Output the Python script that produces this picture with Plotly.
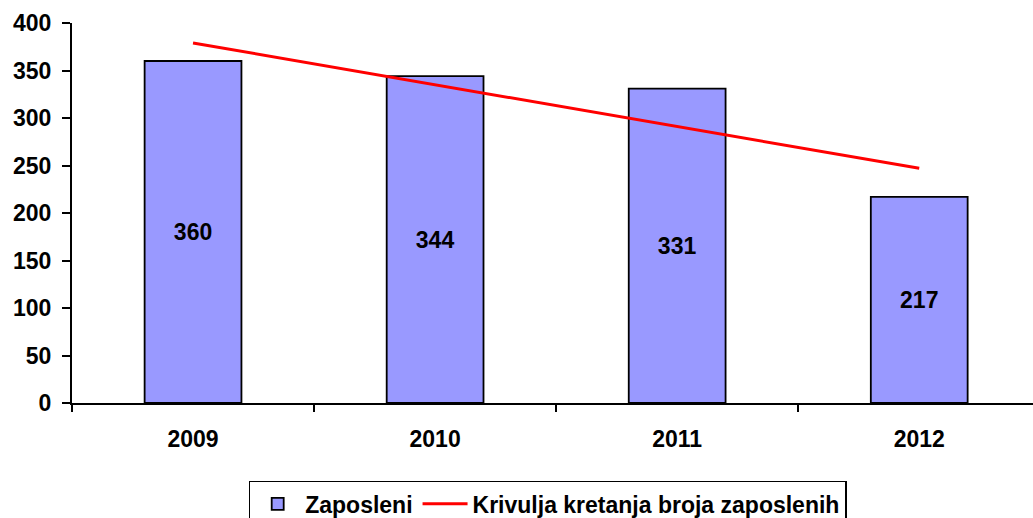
import plotly.graph_objects as go

years = ["2009", "2010", "2011", "2012"]
employees = [360, 344, 331, 217]
trend = [379, 335, 291, 247]

FONT = "Liberation Sans, Arial, sans-serif"

fig = go.Figure()
fig.add_trace(go.Bar(
    x=years, y=employees, name="Zaposleni",
    marker=dict(color="#9999FF", line=dict(color="black", width=1.8)),
    width=0.4,
    text=[str(v) for v in employees], textposition="inside",
    insidetextanchor="middle",
    textfont=dict(family=FONT, size=23, color="black", weight="bold"),
))
fig.add_trace(go.Scatter(
    x=years, y=trend, mode="lines", name="Krivulja kretanja broja zaposlenih",
    line=dict(color="#FF0000", width=3),
))

fig.update_layout(
    width=1033, height=518,
    margin=dict(l=72, r=0, t=23, b=115, autoexpand=False),
    plot_bgcolor="white", paper_bgcolor="white",
    font=dict(family=FONT, size=23, color="black", weight="bold"),
    showlegend=True,
    legend=dict(orientation="h", x=0.495, xanchor="center", y=-0.205, yanchor="top",
                bordercolor="black", borderwidth=1.5, itemwidth=45,
                font=dict(family=FONT, size=23, color="black", weight="bold"),
                traceorder="normal"),
    xaxis=dict(showline=True, linecolor="black", linewidth=2, ticks="outside",
               tickson="boundaries", ticklen=7, tickwidth=1.5, tickcolor="black",
               showgrid=False, tickfont=dict(size=23), range=[-0.5, 3.47],
               ticklabelstandoff=14, automargin=False),
    yaxis=dict(range=[0, 400], dtick=50, showline=True, linecolor="black", linewidth=2,
               ticks="outside", ticklen=8, tickwidth=1.5, tickcolor="black",
               showgrid=False, zeroline=False, tickfont=dict(size=23),
               ticklabelstandoff=6, automargin=False),
    bargap=0.6,
)

fig.write_html("out.html")
